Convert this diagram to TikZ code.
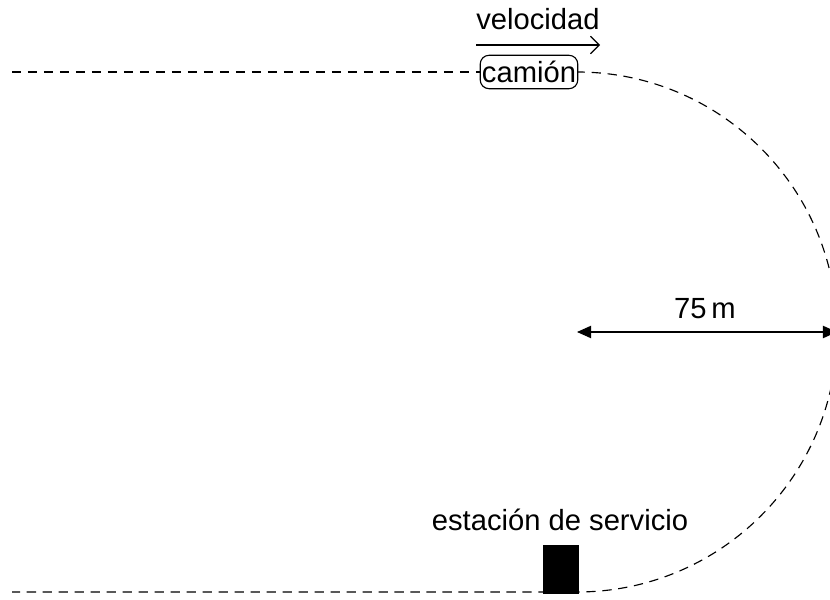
\documentclass[tikz,border=0pt]{standalone}
\usepackage{fontspec}
\setmainfont{Liberation Sans}
\usetikzlibrary{arrows.meta,positioning}

\begin{document}
\begin{tikzpicture}[line width=0.65pt,
  every node/.style={font=\fontsize{16.6}{20}\selectfont},
  track/.style={dash pattern=on 5.3pt off 3.8pt},
  truck/.style={draw,rounded corners=5pt,inner sep=1pt,minimum height=19pt},
  station/.style={fill=black,draw=none,minimum width=0.68cm,minimum height=0.94cm,inner sep=0pt}]
\useasboundingbox (0,0) rectangle (16.6,11.98);
\node[truck]	(camion)	at (10.58,10.54)	{camión};
\node		(vel)		at (10.76,11.60)	{velocidad};
\coordinate	(va)		at (9.52,11.08);
\coordinate	(vb)		at (12.0,11.08);
\coordinate	(lstart)	at (0.24,10.54);
\coordinate	(top)		at (11.54,10.54);
\coordinate	(lend)		at (0.24,0.14);
\coordinate	(center)	at (11.54,5.34);
\coordinate	(rim)		at (16.74,5.34);
\node		(radius)	at (14.1,5.80)		{75\,m};
\node		(label)		at (11.2,1.59)		{estación de servicio};
\node[station]	(gas)		at (11.22,0.59)		{};
% track
\draw[track] (lstart) -- (camion.west);
\draw[track] (camion.east) -- (top) arc (90:-90:5.2) -- (lend);
\fill (gas.south west) rectangle (gas.north east);
% arrows
\draw[-{Straight Barb[length=5pt,width=10pt]}] (va) -- (vb);
\draw[{Triangle[length=8pt,width=7pt]}-{Triangle[length=8pt,width=7pt]}] (center) -- (rim);
\end{tikzpicture}
\end{document}
